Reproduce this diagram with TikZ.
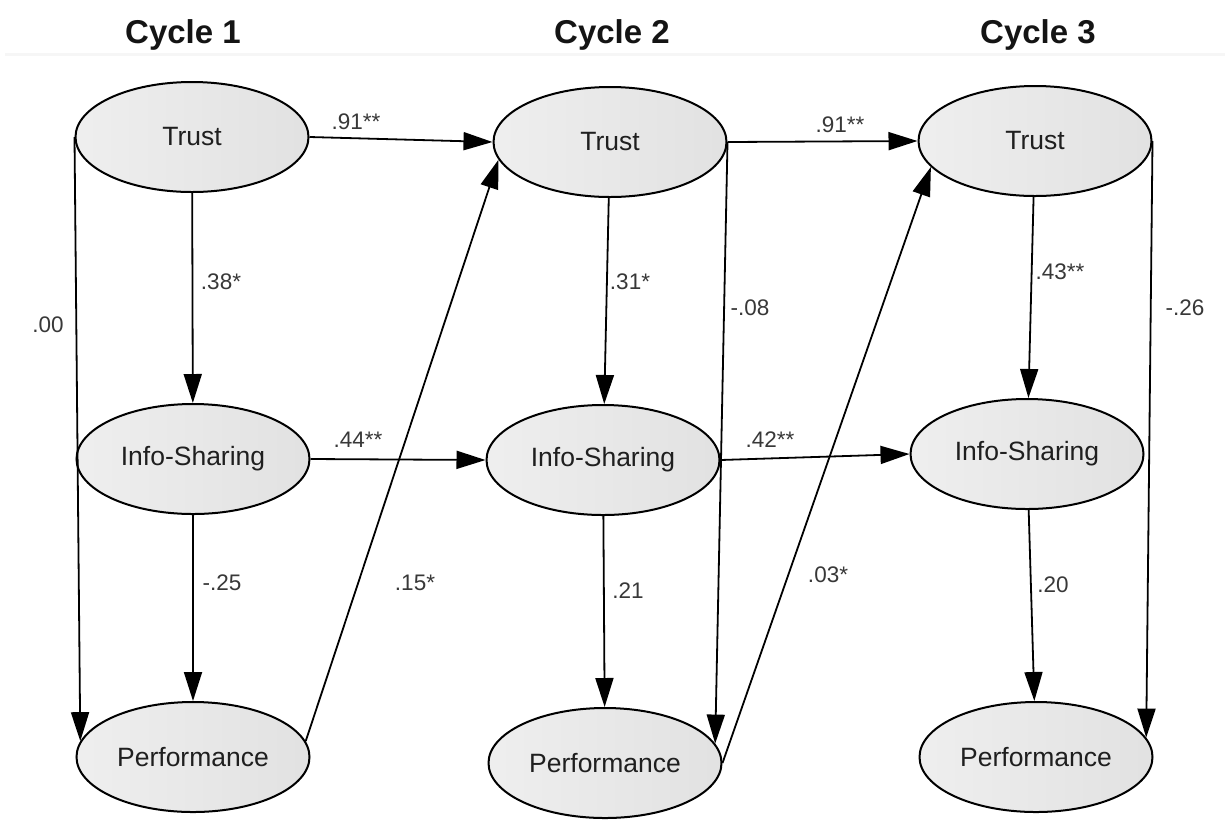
\documentclass[tikz,border=0pt]{standalone}
\usepackage{fontspec}
\setmainfont{Liberation Sans}
\usetikzlibrary{shapes.geometric,arrows.meta}
\begin{document}
\begin{tikzpicture}[x=1pt,y=-1pt,
  lat/.style={ellipse, draw=black, line width=2pt, minimum width=233pt, minimum height=110pt, inner sep=0pt,
    left color=gray!13, right color=gray!23, font=\fontsize{26.5}{31}\selectfont, text=black!88},
  pathar/.style={line width=1.8pt, -{Triangle[length=29pt,width=18pt]}},
  coef/.style={font=\fontsize{22.5}{26}\selectfont, text=black!78, inner sep=0pt},
  cyc/.style={font=\fontsize{33}{40}\selectfont\bfseries, anchor=base, inner sep=0pt, text=black!92}
]
\useasboundingbox (0,0) rectangle (1225,820);
\fill[white] (0,0) rectangle (1225,820);
\draw[gray!7, line width=3pt] (5,54) -- (1225,54);

\node[cyc] (h1) at (183,43) {Cycle 1};
\node[cyc] (h2) at (612,43) {Cycle 2};
\node[cyc] (h3) at (1038,43) {Cycle 3};

\node[lat] (t1) at (192,137) {Trust};
\node[lat] (i1) at (193,459) {Info-Sharing};
\node[lat] (p1) at (193,757) {Performance};
\node[lat] (t2) at (610,142) {Trust};
\node[lat] (i2) at (603,460) {Info-Sharing};
\node[lat] (p2) at (605,763) {Performance};
\node[lat] (t3) at (1035,141) {Trust};
\node[lat] (i3) at (1027,454) {Info-Sharing};
\node[lat] (p3) at (1036,757) {Performance};

\draw[pathar] (t1.east) -- (t2.west);
\draw[pathar] (t2.east) -- (t3.west);
\draw[pathar] (i1.east) -- (i2.west);
\draw[pathar] (i2.east) -- (i3.west);
\draw[pathar] (t1) -- (i1);
\draw[pathar] (i1) -- (p1);
\draw[pathar] (t2) -- (i2);
\draw[pathar] (i2) -- (p2);
\draw[pathar] (t3) -- (i3);
\draw[pathar] (i3) -- (p3);
\draw[pathar] (t1.west) -- (p1.172);
\draw[pathar] (t2.east) -- (p2.10);
\draw[pathar] (t3.east) -- (p3.10);
\draw[pathar] (p1.8) -- (t2.189);
\draw[pathar] (p2.east) -- (t3.194);

\node[coef] (c1) at (356,122) {.91**};
\node[coef] (c2) at (840,125) {.91**};
\node[coef] (c3) at (221,282) {.38*};
\node[coef] (c4) at (48,325) {.00};
\node[coef] (c5) at (358,440) {.44**};
\node[coef] (c6) at (222,583) {-.25};
\node[coef] (c7) at (415,583) {.15*};
\node[coef] (c8) at (630,282) {.31*};
\node[coef] (c9) at (750,308) {-.08};
\node[coef] (c10) at (770,440) {.42**};
\node[coef] (c11) at (628,591) {.21};
\node[coef] (c12) at (828,575) {.03*};
\node[coef] (c13) at (1060,272) {.43**};
\node[coef] (c14) at (1053,585) {.20};
\node[coef] (c15) at (1185,308) {-.26};
\end{tikzpicture}
\end{document}
